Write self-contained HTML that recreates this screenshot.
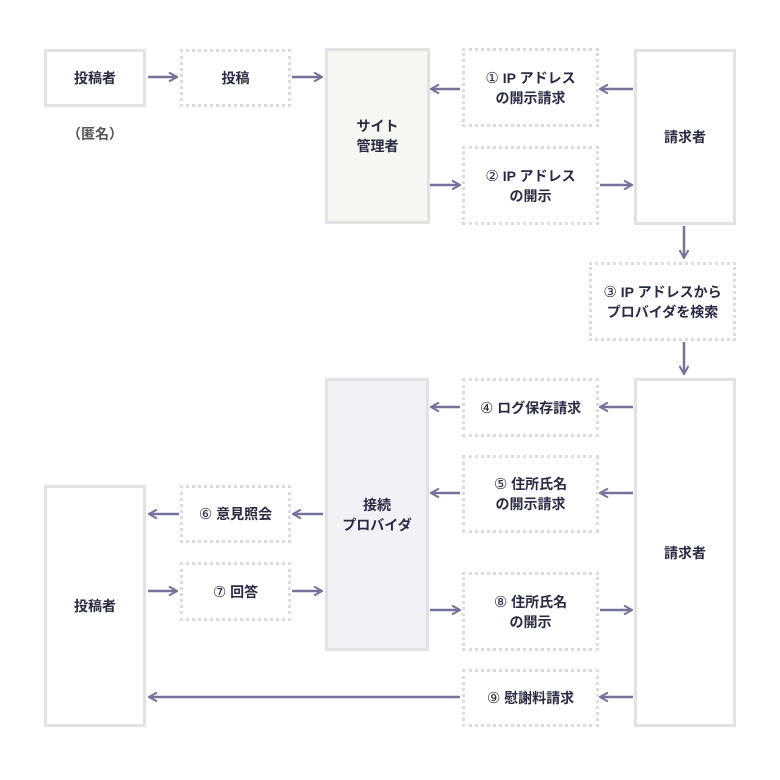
<!DOCTYPE html>
<html><head><meta charset="utf-8"><style>
body{margin:0;width:780px;height:780px;background:#fff;position:relative;overflow:hidden;font-family:"Liberation Sans","Noto Sans CJK JP",sans-serif;}
.b{position:absolute;box-sizing:border-box;border:3px solid #e2e2e4;display:flex;align-items:center;justify-content:center;text-align:center;font-size:14px;font-weight:bold;color:#2a2a44;line-height:20px;}
.d{border:3px dotted #dcdcdc;}
.n{font-family:"DejaVu Sans",sans-serif;font-size:15px;font-weight:normal;}
svg{position:absolute;left:0;top:0;}
</style></head><body>
<div class="b" style="left:44px;top:49px;width:102px;height:58px">投稿者</div>
<div style="position:absolute;left:44px;top:124px;width:102px;text-align:center;font-size:14px;font-weight:bold;color:#555">（匿名）</div>
<div class="b d" style="left:180px;top:49px;width:111px;height:58px">投稿</div>
<div class="b" style="left:325px;top:48px;width:105px;height:176px;background:#f6f6f2">サイト<br>管理者</div>
<div class="b d" style="left:462px;top:48px;width:137px;height:79px"><div><span class="n">①</span> IP アドレス<br>の開示請求</div></div>
<div class="b d" style="left:462px;top:146px;width:137px;height:79px"><div><span class="n">②</span> IP アドレス<br>の開示</div></div>
<div class="b" style="left:634px;top:49px;width:102px;height:176px">請求者</div>
<div class="b d" style="left:589px;top:262px;width:147px;height:79px"><div><span class="n">③</span> IP アドレスから<br>プロバイダを検索</div></div>
<div class="b" style="left:325px;top:378px;width:104px;height:273px;background:#f2f1f6">接続<br>プロバイダ</div>
<div class="b d" style="left:462px;top:378px;width:137px;height:59px"><div><span class="n">④</span> ログ保存請求</div></div>
<div class="b d" style="left:462px;top:455px;width:137px;height:78px"><div><span class="n">⑤</span> 住所氏名<br>の開示請求</div></div>
<div class="b d" style="left:180px;top:485px;width:111px;height:58px"><div><span class="n">⑥</span> 意見照会</div></div>
<div class="b d" style="left:180px;top:562px;width:111px;height:59px"><div><span class="n">⑦</span> 回答</div></div>
<div class="b d" style="left:462px;top:572px;width:137px;height:79px"><div><span class="n">⑧</span> 住所氏名<br>の開示</div></div>
<div class="b d" style="left:462px;top:669px;width:137px;height:58px"><div><span class="n">⑨</span> 慰謝料請求</div></div>
<div class="b" style="left:44px;top:485px;width:102px;height:242px">投稿者</div>
<div class="b" style="left:634px;top:378px;width:102px;height:349px">請求者</div>
<svg width="780" height="780" fill="none" stroke="#77729a" stroke-width="2.5">
<defs>
<marker id="a" viewBox="0 0 10 10" refX="9" refY="5" markerWidth="10" markerHeight="10" markerUnits="userSpaceOnUse" orient="auto"><path d="M1,0.5 L9,5 L1,9.5" fill="none" stroke="#77729a" stroke-width="2"/></marker>
</defs>
<g marker-end="url(#a)">
<path d="M148,77H177"/><path d="M292,77H322"/>
<path d="M633,89H600"/><path d="M460,89H431"/>
<path d="M430,185H460"/><path d="M600,185H632"/>
<path d="M684,226V258"/><path d="M684,342V374"/>
<path d="M633,407H600"/><path d="M460,407H431"/>
<path d="M633,493H600"/><path d="M460,493H431"/>
<path d="M323,514H293"/><path d="M179,514H149"/>
<path d="M148,591H177"/><path d="M292,591H322"/>
<path d="M430,610H460"/><path d="M600,610H632"/>
<path d="M633,697H600"/><path d="M460,697H149"/>
</g>
</svg>
</body></html>
